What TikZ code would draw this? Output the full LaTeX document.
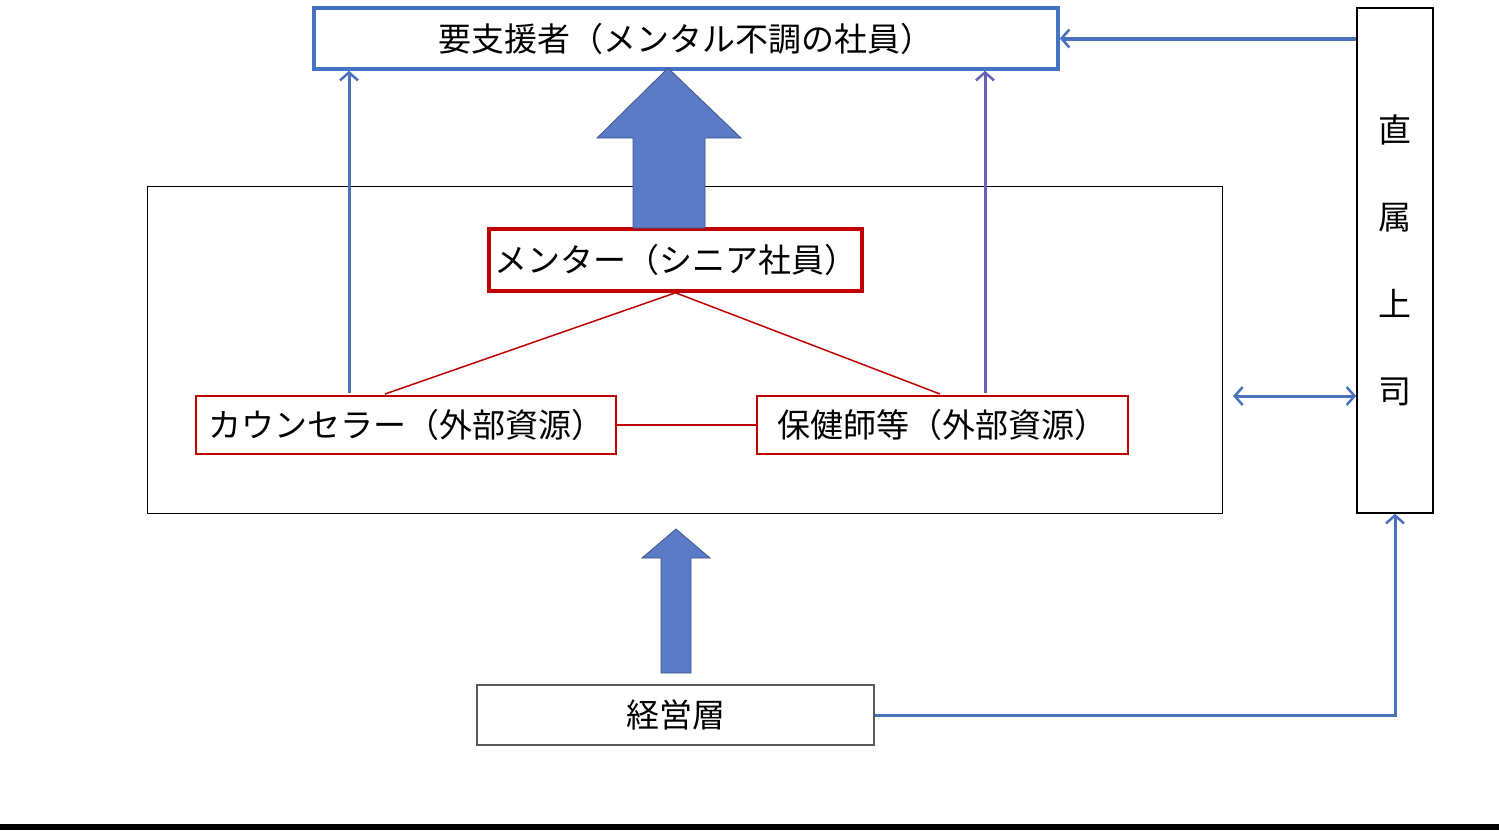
\documentclass[tikz,border=0pt]{standalone}
\usepackage{fontspec}
\setmainfont{Noto Sans CJK JP}
\usetikzlibrary{arrows.meta}
\definecolor{bblue}{HTML}{4472C4}
\definecolor{afill}{HTML}{5B7BC6}
\definecolor{lblue}{HTML}{4A72BC}
\definecolor{lpurp}{HTML}{6A62B8}
\definecolor{dred}{HTML}{C00000}
\tikzset{
  box/.style={draw, rectangle, inner sep=0pt, font=\fontsize{33}{38}\selectfont},
  barb/.tip={Straight Barb[length=8pt,width=18pt,line width=2.5pt]},
  thinarrow/.style={line width=3pt, -barb},
  redline/.style={draw=dred, line width=1.5pt},
  blockarrow/.style={fill=afill, draw=afill!70!black, line width=0.8pt},
}
\begin{document}
\begin{tikzpicture}[x=1pt,y=-1pt]
\useasboundingbox (0,0) rectangle (1499,830);
\fill[black] (0,824) rectangle (1499,830);

\node[box, draw=bblue, line width=3.5pt, minimum width=744, minimum height=61] (top) at (686,38.5) {要支援者（メンタル不調の社員）};
\node[box, line width=1.5pt, minimum width=76, minimum height=505, align=center, font=\fontsize{33}{87}\selectfont] (boss) at (1395,260.5) {直\\属\\上\\司};
\node[box, line width=1pt, minimum width=1075, minimum height=327] (frame) at (684.5,349.5) {};
\node[box, draw=dred, line width=3.5pt, minimum width=373, minimum height=62] (mentor) at (675.5,260) {メンター（シニア社員）};
\node[box, draw=dred, line width=1.5pt, minimum width=420, minimum height=58] (counsel) at (406,425) {カウンセラー（外部資源）};
\node[box, draw=dred, line width=1.5pt, minimum width=371, minimum height=58] (health) at (942.5,425) {保健師等（外部資源）};
\node[box, draw=gray!70!black, line width=1.5pt, minimum width=397, minimum height=60] (mgmt) at (675.5,715) {経営層};

% big block arrow mentor -> top
\filldraw[blockarrow] (633,228) -- (633,138) -- (597,138) -- (668,68) -- (741,138) -- (705,138) -- (705,228) -- cycle;
% small block arrow mgmt -> frame
\filldraw[blockarrow] (661,673) -- (661,558) -- (642,558) -- (676,529) -- (710,558) -- (691,558) -- (691,673) -- cycle;

% thin arrows
\coordinate (ca) at (349,393);
\coordinate (ha) at (985,393);
\draw[thinarrow, draw=lblue] (ca) -- (ca |- top.south);
\draw[thinarrow, draw=lpurp] (ha) -- (ha |- top.south);
\draw[thinarrow, draw=lblue, line width=4pt] (boss.west |- top.east) -- (top.east);

% red connectors
\coordinate (cl) at (385,394);
\coordinate (hl) at (940,394);
\draw[redline] (mentor.south) -- (cl);
\draw[redline] (mentor.south) -- (hl);
\draw[redline] (counsel.east) -- (health.west);

% double arrow
\coordinate (da) at (1233,396);
\draw[line width=3pt, draw=lblue, barb-barb] (da) -- (da -| boss.west);

% mgmt -> boss
\draw[thinarrow, draw=lblue] (mgmt.east) -| (boss.south);
\end{tikzpicture}
\end{document}
